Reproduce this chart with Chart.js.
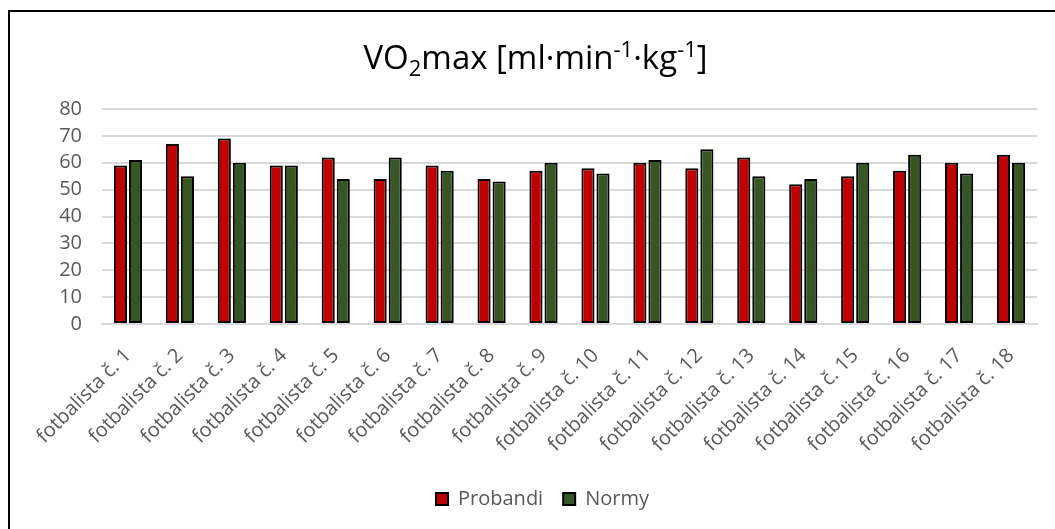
<!DOCTYPE html>
<html>
<head>
<meta charset="utf-8">
<script src="https://cdn.jsdelivr.net/npm/chart.js@4"></script>
<style>
  html, body { margin: 0; padding: 0; background: #fff; width: 1055px; height: 529px; overflow: hidden; }
  #frame { position: absolute; left: 8px; top: 10px; width: 1047px; height: 519px; border-left: 2px solid #000; border-top: 2px solid #000; box-sizing: border-box; }
  #wrap { position: absolute; left: 0; top: 0; width: 1045px; height: 517px; }
</style>
</head>
<body>
<div id="frame"><div id="wrap"><canvas id="c"></canvas></div></div>
<script>
const categories = ["fotbalista č. 1","fotbalista č. 2","fotbalista č. 3","fotbalista č. 4","fotbalista č. 5","fotbalista č. 6","fotbalista č. 7","fotbalista č. 8","fotbalista č. 9","fotbalista č. 10","fotbalista č. 11","fotbalista č. 12","fotbalista č. 13","fotbalista č. 14","fotbalista č. 15","fotbalista č. 16","fotbalista č. 17","fotbalista č. 18"];
const probandi = [59, 67, 69, 59, 62, 54, 59, 54, 57, 58, 60, 58, 62, 52, 55, 57, 60, 63];
const normy    = [61, 55, 60, 59, 54, 62, 57, 53, 60, 56, 61, 65, 55, 54, 60, 63, 56, 60];
const seriesNames = ["Probandi", "Normy"];
const titleParts = [
  { t: "VO", k: "n" }, { t: "2", k: "sub" }, { t: "max [ml·min", k: "n" },
  { t: "-1", k: "sup" }, { t: "·kg", k: "n" }, { t: "-1", k: "sup" }, { t: "]", k: "n" }
];
const yTicks = [0, 10, 20, 30, 40, 50, 60, 70, 80];

const FONT = "'Open Sans', 'Liberation Sans', sans-serif";
const TXT = "#595959";

const titlePlugin = {
  id: "richTitle",
  afterDraw(chart) {
    const ctx = chart.ctx;
    const big = 33, small = 22;
    ctx.save();
    ctx.fillStyle = "#000";
    ctx.textBaseline = "alphabetic";
    let total = 0;
    for (const p of titleParts) {
      ctx.font = (p.k === "n" ? big : small) + "px " + FONT;
      total += ctx.measureText(p.t).width;
    }
    let x = chart.width / 2 - total / 2 + 3;
    const base = 57;
    for (const p of titleParts) {
      ctx.font = (p.k === "n" ? big : small) + "px " + FONT;
      let y = base;
      if (p.k === "sub") y += 7;
      if (p.k === "sup") y -= 12;
      ctx.fillText(p.t, x, y);
      x += ctx.measureText(p.t).width;
    }
    ctx.restore();
  }
};

new Chart(document.getElementById("c"), {
  type: "bar",
  data: {
    labels: categories,
    datasets: [
      { label: seriesNames[0], data: probandi, backgroundColor: "#C00000", borderColor: "#000", borderWidth: 2, borderSkipped: false },
      { label: seriesNames[1], data: normy, backgroundColor: "#375623", borderColor: "#000", borderWidth: 2, borderSkipped: false }
    ]
  },
  options: {
    responsive: true,
    maintainAspectRatio: false,
    animation: false,
    datasets: { bar: { categoryPercentage: 0.58, barPercentage: 0.87 } },
    layout: { padding: { top: 97, right: 18, bottom: 10, left: 38 } },
    plugins: {
      title: { display: false },
      tooltip: { enabled: false },
      legend: {
        position: "bottom",
        labels: { color: TXT, font: { family: FONT, size: 20 }, boxWidth: 12, boxHeight: 12, padding: 20 }
      }
    },
    scales: {
      x: {
        grid: { display: false, drawTicks: false },
        border: { display: true, color: "#d9d9d9", width: 2 },
        ticks: { color: TXT, font: { family: FONT, size: 20 }, minRotation: 45, maxRotation: 45, padding: 20, autoSkip: false },
        afterFit(s) { s.height = 145; }
      },
      y: {
        min: 0, max: 80,
        afterBuildTicks(s) { s.ticks = yTicks.map(v => ({ value: v })); },
        grid: { color: "#d9d9d9", lineWidth: 2, drawTicks: false },
        border: { display: false },
        ticks: { color: TXT, font: { family: FONT, size: 20 }, padding: 20, autoSkip: false },
        afterFit(s) { s.width = 54; }
      }
    }
  },
  plugins: [titlePlugin]
});
</script>
</body>
</html>
